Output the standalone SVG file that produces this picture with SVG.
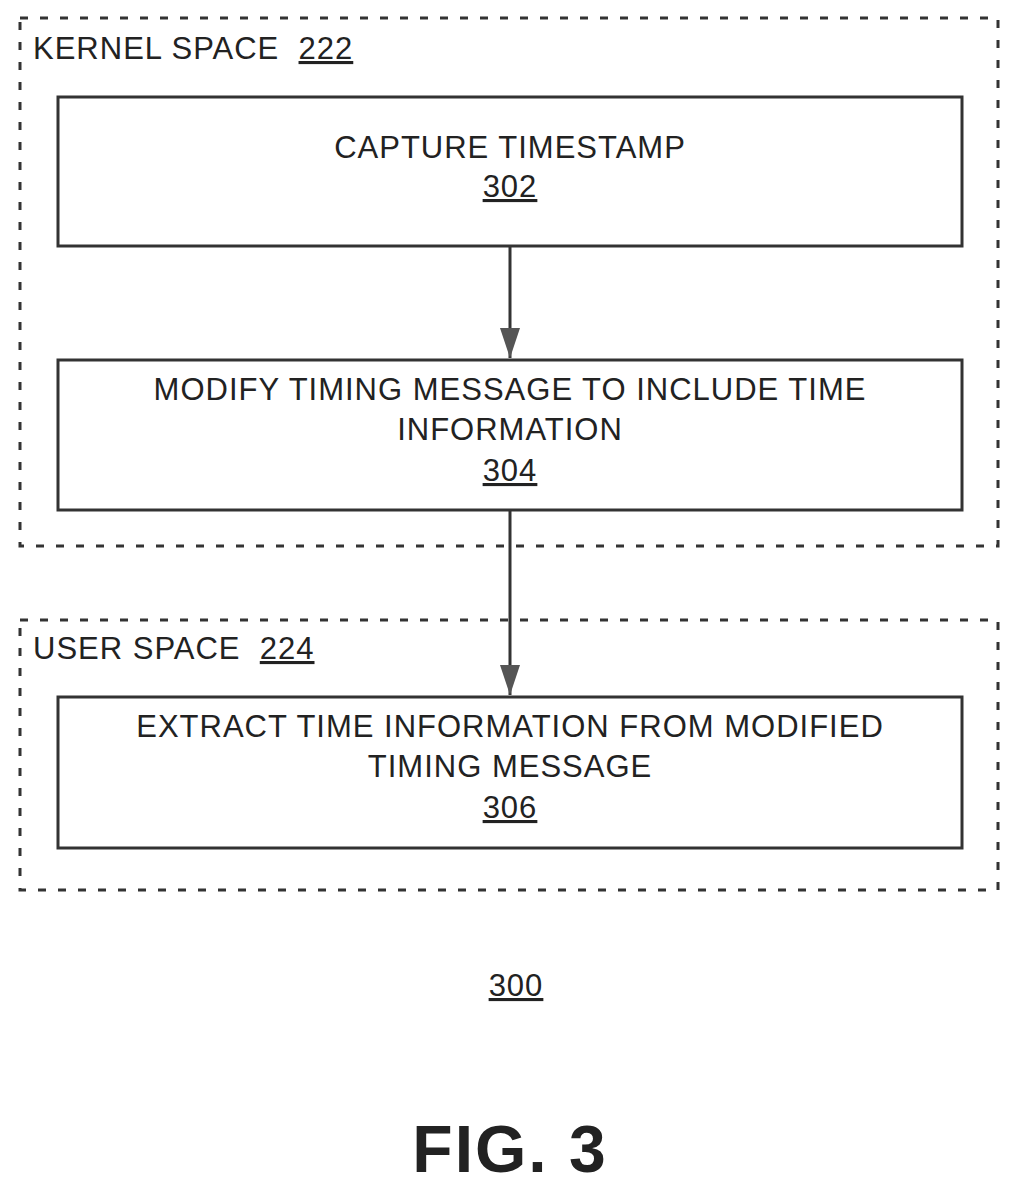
<svg xmlns="http://www.w3.org/2000/svg" width="1018" height="1188" viewBox="0 0 1018 1188">
<style>
text{font-family:"Liberation Sans",Arial,sans-serif;fill:#222;font-size:31px;letter-spacing:1px}
.c{text-anchor:middle}
.u{text-decoration:underline}
.box{fill:none;stroke:#333;stroke-width:3}
.grp{fill:none;stroke:#333;stroke-width:3;stroke-dasharray:8 12}
.ln{stroke:#333;stroke-width:3;fill:none}
</style>
<defs><marker id="ah" viewBox="0 0 20 30" refX="10" refY="30" markerWidth="20" markerHeight="30" markerUnits="userSpaceOnUse" orient="0"><path d="M0 0L20 0L10 30Z" fill="#555"/></marker></defs>
<g id="kernel"><rect class="grp" x="20" y="18" width="978" height="528"/><text x="33" y="59" xml:space="preserve">KERNEL SPACE  <tspan class="u">222</tspan></text></g>
<g id="user"><rect class="grp" x="20" y="620" width="978" height="270"/><text x="33" y="659" xml:space="preserve">USER SPACE  <tspan class="u">224</tspan></text></g>
<g id="n302"><rect class="box" x="58" y="97" width="904" height="149"/><text class="c" x="510" y="158">CAPTURE TIMESTAMP</text><text class="c u" x="510" y="197">302</text></g>
<g id="n304"><rect class="box" x="58" y="360" width="904" height="150"/><text class="c" x="510" y="400">MODIFY TIMING MESSAGE TO INCLUDE TIME</text><text class="c" x="510" y="440">INFORMATION</text><text class="c u" x="510" y="481">304</text></g>
<g id="n306"><rect class="box" x="58" y="697" width="904" height="151"/><text class="c" x="510" y="737">EXTRACT TIME INFORMATION FROM MODIFIED</text><text class="c" x="510" y="777">TIMING MESSAGE</text><text class="c u" x="510" y="818">306</text></g>
<g id="connectors"><path class="ln" d="M510 246V358" marker-end="url(#ah)"/><path class="ln" d="M510 510V695" marker-end="url(#ah)"/></g>
<text class="c u" x="516" y="996">300</text>
<text class="c" x="510" y="1172" style="font-size:66px;font-weight:bold;letter-spacing:2px">FIG. 3</text>
</svg>
